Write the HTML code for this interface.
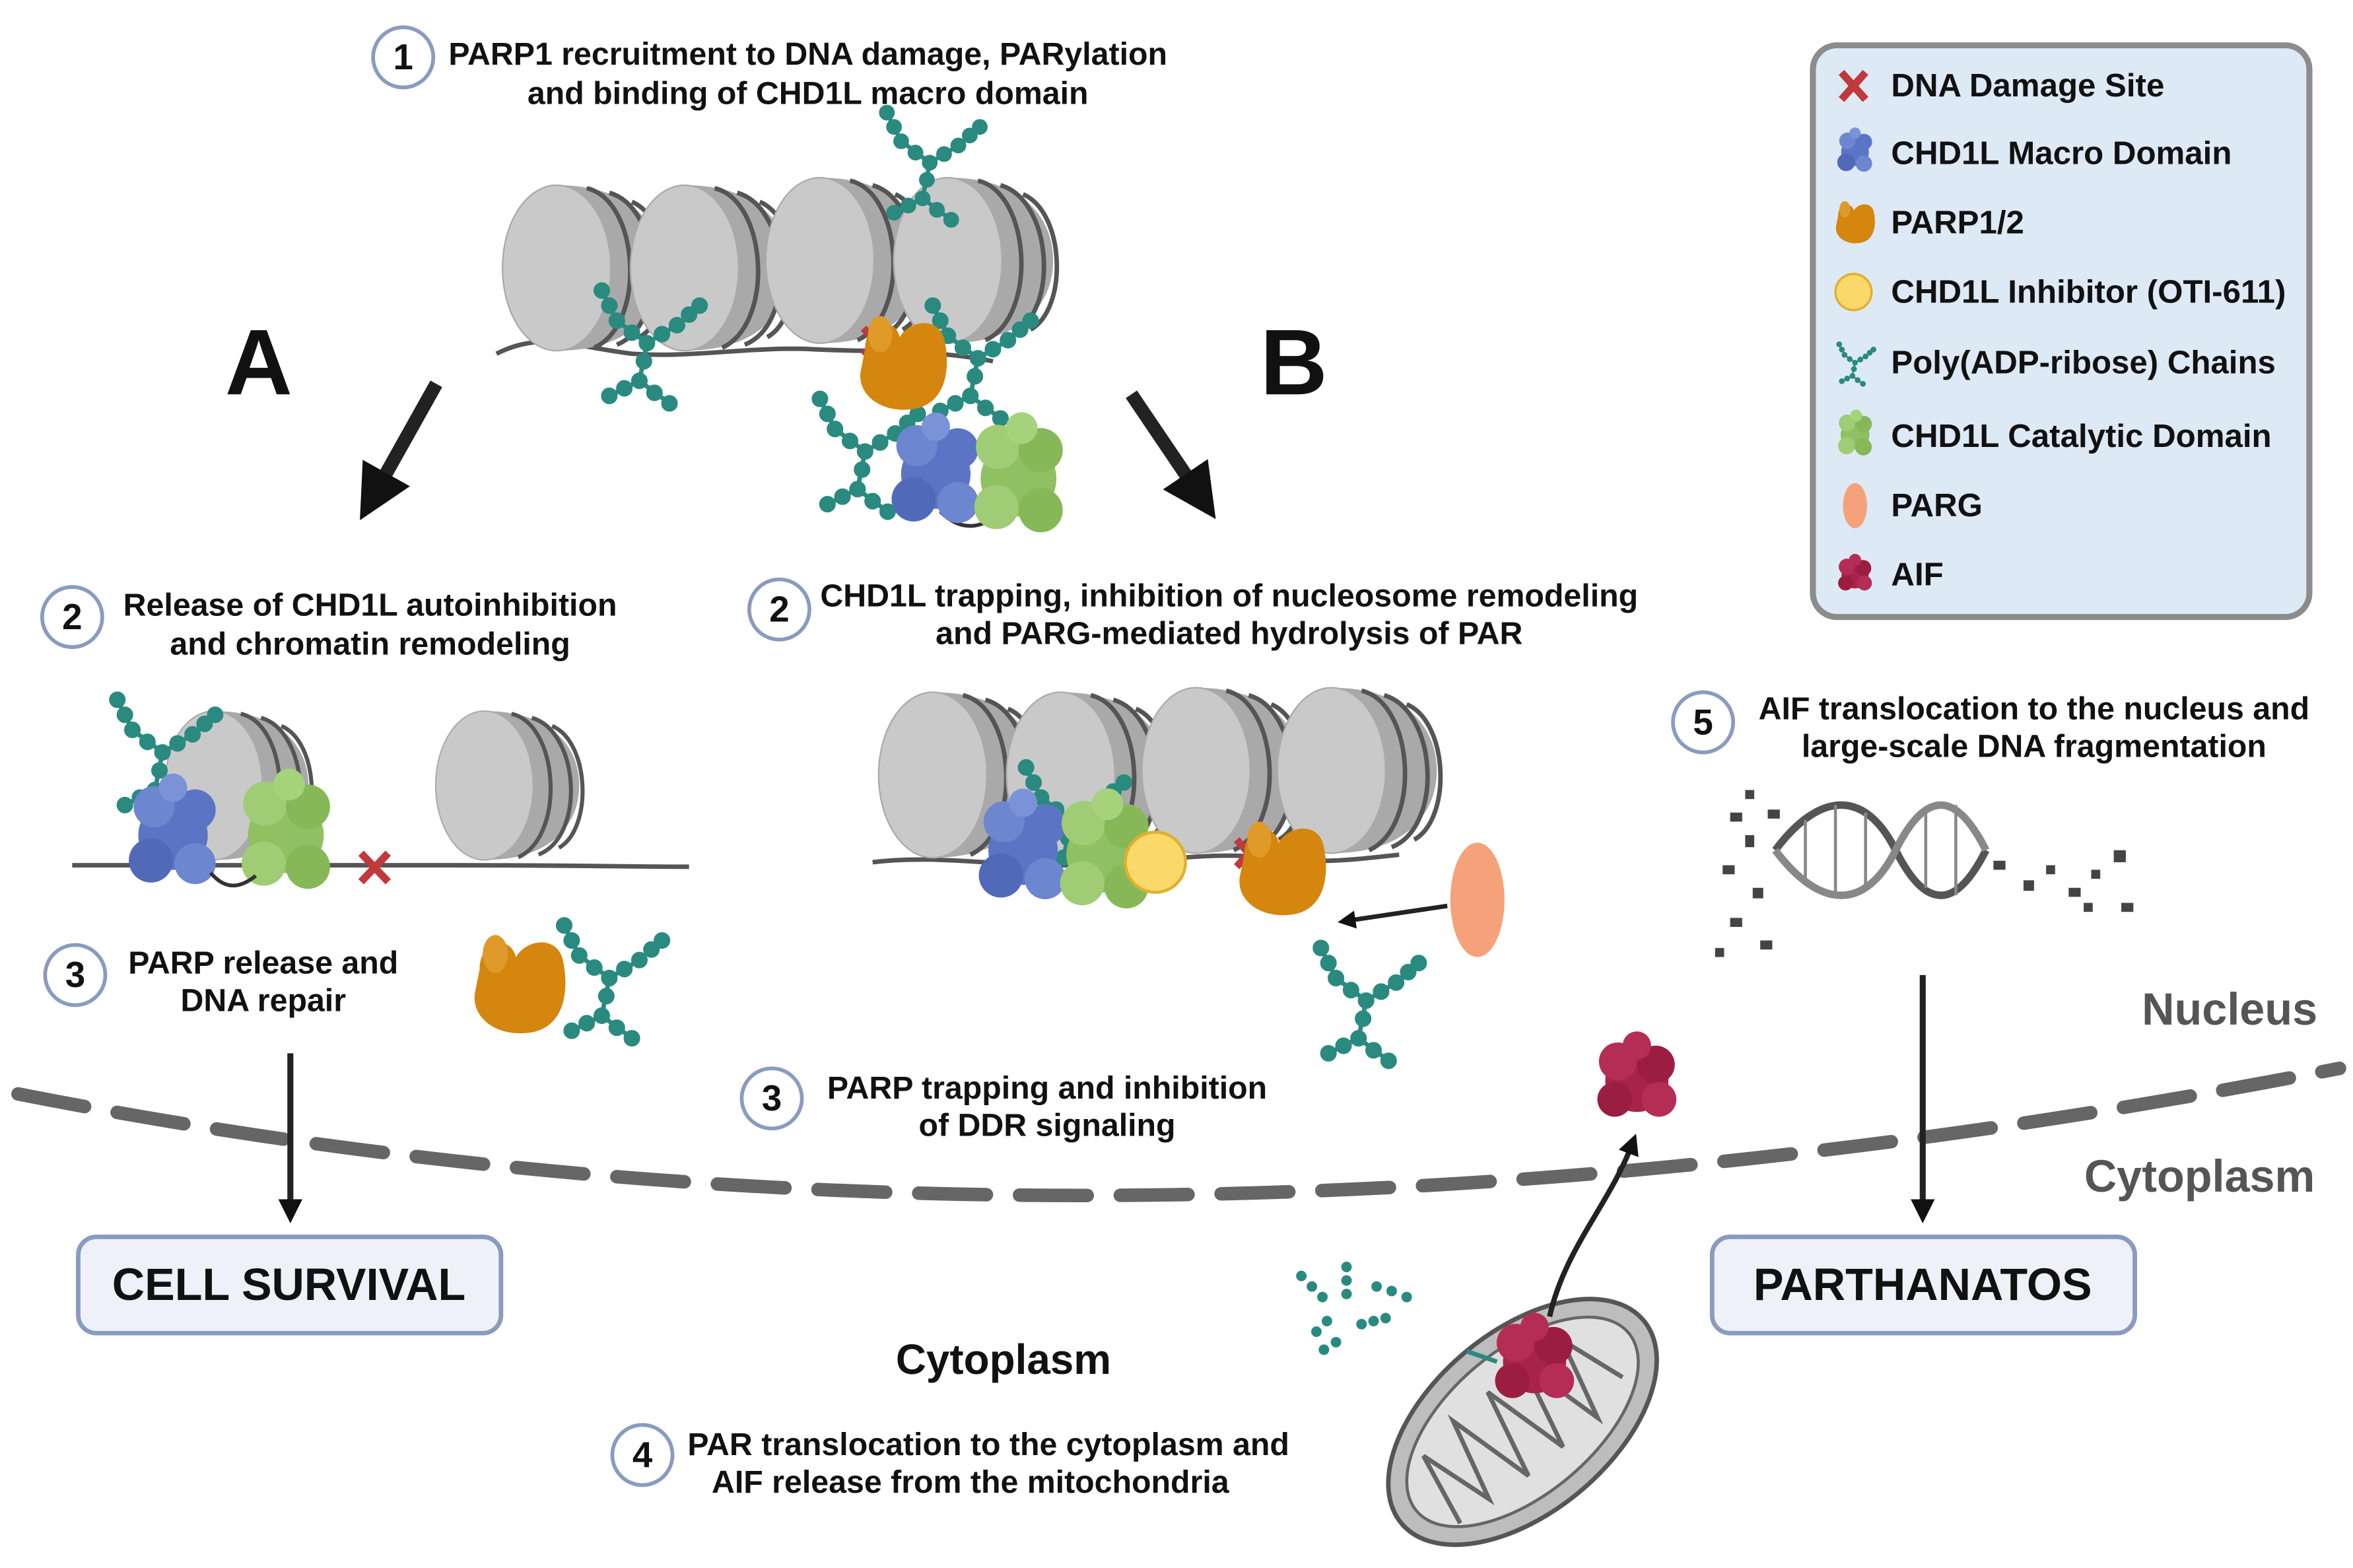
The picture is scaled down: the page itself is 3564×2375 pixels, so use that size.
<!DOCTYPE html>
<html><head><meta charset="utf-8"><style>
html,body{margin:0;padding:0;background:#fff}
svg{display:block}
text{font-family:"Liberation Sans",sans-serif;font-weight:bold;fill:#111}
</style></head><body>
<svg width="3564" height="2375" viewBox="0 0 1564 1042" xmlns="http://www.w3.org/2000/svg">
<defs>
<g id="nuc">
<path d="M-20,-55 C30,-55 50,-28 50,0 C50,28 30,55 -20,55 Z" fill="#a9a9a9"/>
<path d="M0,-53 C35,-45 40,37 5,53" fill="none" stroke="#555" stroke-width="3"/>
<path d="M15,-50 C50,-40 55,37 20,51" fill="none" stroke="#555" stroke-width="3"/>
<path d="M30,-44 C58,-32 60,32 35,46" fill="none" stroke="#555" stroke-width="3"/>
<ellipse cx="-20" cy="0" rx="36" ry="55" fill="#c9c9c9" stroke="#aaa" stroke-width="1"/>
</g>
<g id="par" fill="#2a8a80" stroke="#2a8a80" stroke-width="3">
<path d="M0,0 L-20,-15 M0,0 L20,-12 M0,0 L-5,25 M-5,25 L-25,35 M-5,25 L15,40 M20,-12 L35,-25 M-20,-15 L-30,-35" fill="none"/>
<circle cx="0" cy="0" r="4"/><circle cx="-10" cy="-7" r="4"/><circle cx="-20" cy="-15" r="4"/><circle cx="-25" cy="-25" r="4"/><circle cx="-30" cy="-35" r="4"/>
<circle cx="10" cy="-6" r="4"/><circle cx="20" cy="-12" r="4"/><circle cx="28" cy="-19" r="4"/><circle cx="35" cy="-25" r="4"/>
<circle cx="-2" cy="12" r="4"/><circle cx="-5" cy="25" r="4"/><circle cx="-15" cy="30" r="4"/><circle cx="-25" cy="35" r="4"/><circle cx="5" cy="33" r="4"/><circle cx="15" cy="40" r="4"/>
</g>
<g id="blue"><circle cx="0" cy="0" r="22" fill="#5b75c4"/><circle cx="-12" cy="-18" r="13" fill="#6d86d0"/><circle cx="14" cy="-16" r="13" fill="#5b75c4"/><circle cx="-14" cy="16" r="14" fill="#5069b8"/><circle cx="14" cy="18" r="13" fill="#6d86d0"/><circle cx="0" cy="-30" r="9" fill="#7a92d8"/></g>
<g id="green"><circle cx="0" cy="0" r="24" fill="#8fc062"/><circle cx="-13" cy="-20" r="14" fill="#9fcc74"/><circle cx="14" cy="-18" r="14" fill="#86b858"/><circle cx="-14" cy="18" r="14" fill="#9fcc74"/><circle cx="14" cy="20" r="14" fill="#86b858"/><circle cx="2" cy="-32" r="10" fill="#a6d27c"/></g>
<g id="orange"><path d="M-25,-10 C-25,-30 -5,-32 -2,-18 C5,-30 25,-32 28,-15 C32,5 28,28 5,30 C-15,32 -30,20 -28,5 Z" fill="#d4860f"/><ellipse cx="-15" cy="-20" rx="8" ry="12" fill="#e09a2a"/></g>
<g id="aif"><circle cx="0" cy="0" r="20" fill="#a8234a"/><circle cx="-12" cy="-12" r="12" fill="#b52c55"/><circle cx="12" cy="-10" r="12" fill="#9c1d42"/><circle cx="0" cy="-22" r="9" fill="#b52c55"/><circle cx="-14" cy="12" r="11" fill="#9c1d42"/><circle cx="14" cy="12" r="11" fill="#b52c55"/></g>
<marker id="ah" viewBox="0 0 10 10" refX="5" refY="5" markerWidth="4" markerHeight="4" orient="auto"><path d="M0,0 L10,5 L0,10 Z" fill="#111"/></marker>
</defs>

<!-- titles -->
<g font-size="21.2">
<circle cx="268" cy="38" r="20" fill="#fff" stroke="#8a9bc0" stroke-width="2.5"/><text x="268" y="46" font-size="24" text-anchor="middle">1</text>
<text x="537" y="43" text-anchor="middle">PARP1 recruitment to DNA damage, PARylation</text>
<text x="537" y="69" text-anchor="middle">and binding of CHD1L macro domain</text>

<circle cx="48" cy="410" r="20" fill="#fff" stroke="#8a9bc0" stroke-width="2.5"/><text x="48" y="418" font-size="24" text-anchor="middle">2</text>
<text x="246" y="409" text-anchor="middle">Release of CHD1L autoinhibition</text>
<text x="246" y="435" text-anchor="middle">and chromatin remodeling</text>

<circle cx="518" cy="405" r="20" fill="#fff" stroke="#8a9bc0" stroke-width="2.5"/><text x="518" y="413" font-size="24" text-anchor="middle">2</text>
<text x="817" y="403" text-anchor="middle">CHD1L trapping, inhibition of nucleosome remodeling</text>
<text x="817" y="428" text-anchor="middle">and PARG-mediated hydrolysis of PAR</text>

<circle cx="50" cy="648" r="20" fill="#fff" stroke="#8a9bc0" stroke-width="2.5"/><text x="50" y="656" font-size="24" text-anchor="middle">3</text>
<text x="175" y="647" text-anchor="middle">PARP release and</text>
<text x="175" y="672" text-anchor="middle">DNA repair</text>

<circle cx="513" cy="730" r="20" fill="#fff" stroke="#8a9bc0" stroke-width="2.5"/><text x="513" y="738" font-size="24" text-anchor="middle">3</text>
<text x="696" y="730" text-anchor="middle">PARP trapping and inhibition</text>
<text x="696" y="755" text-anchor="middle">of DDR signaling</text>

<circle cx="1132" cy="480" r="20" fill="#fff" stroke="#8a9bc0" stroke-width="2.5"/><text x="1132" y="488" font-size="24" text-anchor="middle">5</text>
<text x="1352" y="478" text-anchor="middle">AIF translocation to the nucleus and</text>
<text x="1352" y="503" text-anchor="middle">large-scale DNA fragmentation</text>

<circle cx="427" cy="967" r="20" fill="#fff" stroke="#8a9bc0" stroke-width="2.5"/><text x="427" y="975" font-size="24" text-anchor="middle">4</text>
<text x="657" y="967" text-anchor="middle">PAR translocation to the cytoplasm and</text>
<text x="645" y="992" text-anchor="middle">AIF release from the mitochondria</text>
</g>
<text x="172" y="262" font-size="62" text-anchor="middle">A</text>
<text x="860" y="262" font-size="62" text-anchor="middle">B</text>
<text x="667" y="913" font-size="28" text-anchor="middle">Cytoplasm</text>
<text x="1482" y="681" font-size="30" text-anchor="middle" style="fill:#555">Nucleus</text>
<text x="1462" y="792" font-size="30" text-anchor="middle" style="fill:#555">Cytoplasm</text>

<!-- legend -->
<rect x="1205" y="30" width="330" height="380" rx="16" fill="#dde9f5" stroke="#8c8c8c" stroke-width="4"/>
<g font-size="21.6">
<text x="1257" y="64">DNA Damage Site</text>
<text x="1257" y="109">CHD1L Macro Domain</text>
<text x="1257" y="155">PARP1/2</text>
<text x="1257" y="201">CHD1L Inhibitor (OTI-611)</text>
<text x="1257" y="248">Poly(ADP-ribose) Chains</text>
<text x="1257" y="297">CHD1L Catalytic Domain</text>
<text x="1257" y="343">PARG</text>
<text x="1257" y="389">AIF</text>
</g>
<path d="M1224,48 L1240,66 M1240,48 L1224,66" stroke="#c0393b" stroke-width="5"/>
<use href="#blue" transform="translate(1233,101) scale(0.42)"/>
<use href="#orange" transform="translate(1233,148) scale(0.45)"/>
<circle cx="1232" cy="194" r="12" fill="#fbd86a" stroke="#e0b030" stroke-width="1.5"/>
<use href="#par" transform="translate(1233,241) scale(0.35)"/>
<use href="#green" transform="translate(1233,289) scale(0.4)"/>
<ellipse cx="1233" cy="336" rx="8" ry="15" fill="#f5a27a"/>
<use href="#aif" transform="translate(1233,382) scale(0.45)"/>

<!-- top chromatin -->
<path d="M330,235 C360,220 380,230 420,235 C460,238 500,230 540,232 C580,234 620,232 660,240" fill="none" stroke="#555" stroke-width="3"/>
<use href="#nuc" transform="translate(390,178)"/>
<use href="#nuc" transform="translate(475,178)"/>
<use href="#nuc" transform="translate(565,173)"/>
<use href="#nuc" transform="translate(650,173)"/>
<use href="#par" transform="translate(430,228) scale(1.0)"/>
<use href="#par" transform="translate(618,108) scale(0.95)"/>
<use href="#par" transform="translate(650,238) scale(1.0)"/>
<use href="#par" transform="translate(575,300) scale(1.0)"/>
<path d="M574,218 L590,236 M590,218 L574,236" stroke="#c0393b" stroke-width="5"/>
<use href="#orange" transform="translate(600,242)"/>
<path d="M625,340 C640,355 655,350 665,340" fill="none" stroke="#333" stroke-width="2.5"/>
<use href="#blue" transform="translate(622,315) scale(1.05)"/>
<use href="#green" transform="translate(677,318) scale(1.05)"/>

<!-- big arrows -->
<line x1="290" y1="255" x2="248" y2="330" stroke="#222" stroke-width="9" marker-end="url(#ah)"/>
<line x1="752" y1="262" x2="798" y2="330" stroke="#222" stroke-width="9" marker-end="url(#ah)"/>

<!-- left chromatin -->
<path d="M48,575 C100,575 200,575 300,575 C380,575 420,576 458,576" fill="none" stroke="#555" stroke-width="3"/>
<use href="#nuc" transform="translate(160,522) scale(0.9)"/>
<use href="#nuc" transform="translate(340,522) scale(0.9)"/>
<use href="#par" transform="translate(108,500) scale(1.0)"/>
<use href="#blue" transform="translate(115,555) scale(1.05)"/>
<use href="#green" transform="translate(190,555) scale(1.05)"/>
<path d="M140,580 C150,592 160,590 170,582" fill="none" stroke="#333" stroke-width="2.5"/>
<path d="M240,567 L258,586 M258,567 L240,586" stroke="#c0393b" stroke-width="5"/>
<use href="#orange" transform="translate(345,655) scale(1.05)"/>
<use href="#par" transform="translate(405,650) scale(1.0)"/>

<!-- right chromatin -->
<path d="M580,573 C620,568 660,575 700,575 C760,575 800,565 840,570 C880,575 910,570 930,568" fill="none" stroke="#555" stroke-width="3"/>
<use href="#nuc" transform="translate(640,515)"/>
<use href="#nuc" transform="translate(725,515)"/>
<use href="#nuc" transform="translate(815,512)"/>
<use href="#nuc" transform="translate(905,512)"/>
<use href="#par" transform="translate(712,545) scale(1.0)"/>
<use href="#blue" transform="translate(680,565) scale(1.05)"/>
<use href="#green" transform="translate(734,568) scale(1.05)"/>
<circle cx="768" cy="573" r="20" fill="#fbd86a" stroke="#e0b030" stroke-width="2"/>
<path d="M822,558 L838,576 M838,558 L822,576" stroke="#c0393b" stroke-width="5"/>
<use href="#orange" transform="translate(852,578)"/>
<ellipse cx="982" cy="598" rx="18" ry="38" fill="#f5a27a"/>
<line x1="962" y1="602" x2="895" y2="612" stroke="#222" stroke-width="3" marker-end="url(#ah)"/>
<use href="#par" transform="translate(908,665) scale(1.0)"/>

<!-- DNA fragments -->
<g stroke="#555" stroke-width="5" fill="none">
<path d="M1180,565 C1210,525 1240,525 1260,565 C1280,605 1300,605 1320,565"/>
<path d="M1180,565 C1210,605 1240,605 1260,565 C1280,525 1300,525 1320,565" stroke="#888"/>
</g>
<g stroke="#888" stroke-width="2"><line x1="1200" y1="545" x2="1200" y2="585"/><line x1="1220" y1="535" x2="1220" y2="595"/><line x1="1240" y1="540" x2="1240" y2="590"/><line x1="1280" y1="540" x2="1280" y2="590"/><line x1="1300" y1="535" x2="1300" y2="595"/></g>
<g fill="#444">
<rect x="1150" y="540" width="8" height="6"/><rect x="1160" y="555" width="6" height="8"/><rect x="1145" y="575" width="8" height="6"/><rect x="1165" y="590" width="7" height="7"/><rect x="1150" y="610" width="8" height="6"/><rect x="1170" y="625" width="8" height="6"/><rect x="1140" y="630" width="6" height="6"/><rect x="1175" y="538" width="8" height="6"/><rect x="1160" y="525" width="6" height="6"/>
<rect x="1325" y="572" width="8" height="6"/><rect x="1345" y="585" width="7" height="7"/><rect x="1360" y="575" width="6" height="6"/><rect x="1375" y="590" width="8" height="6"/><rect x="1390" y="578" width="6" height="6"/><rect x="1405" y="565" width="8" height="8"/><rect x="1410" y="600" width="8" height="6"/><rect x="1385" y="600" width="6" height="6"/>
</g>

<!-- membrane -->
<path d="M12,727 Q740,870 1555,710" fill="none" stroke="#666" stroke-width="9" stroke-linecap="round" stroke-dasharray="45 22"/>

<!-- down arrows -->
<line x1="193" y1="700" x2="193" y2="805" stroke="#222" stroke-width="4" marker-end="url(#ah)"/>
<line x1="1278" y1="648" x2="1278" y2="805" stroke="#222" stroke-width="4" marker-end="url(#ah)"/>

<!-- boxes -->
<rect x="52" y="822" width="281" height="64" rx="12" fill="#eef2f8" stroke="#8a9bc0" stroke-width="3"/>
<text x="192" y="864" font-size="30" text-anchor="middle">CELL SURVIVAL</text>
<rect x="1138" y="822" width="281" height="64" rx="12" fill="#eef2f8" stroke="#8a9bc0" stroke-width="3"/>
<text x="1278" y="864" font-size="30" text-anchor="middle">PARTHANATOS</text>

<!-- mitochondrion -->
<g transform="translate(1012,945) rotate(-40)">
<ellipse cx="0" cy="0" rx="105" ry="60" fill="#bdbdbd" stroke="#555" stroke-width="3"/>
<ellipse cx="0" cy="0" rx="92" ry="48" fill="#e0e0e0" stroke="#666" stroke-width="2"/>
<path d="M-75,25 L-65,-25 L-50,25 L-35,-30 L-20,30 L-5,-30 L10,30 L25,-30 L40,30 L55,-25 L70,20" fill="none" stroke="#666" stroke-width="3"/>
</g>
<use href="#aif" transform="translate(1020,905) scale(1.05)"/>
<path d="M975,898 L995,905" stroke="#2a8a80" stroke-width="3"/>
<path d="M1030,875 C1040,830 1070,800 1085,760" fill="none" stroke="#222" stroke-width="3.5" marker-end="url(#ah)"/>
<use href="#aif" transform="translate(1088,718) scale(1.05)"/>
<g fill="#2a8a80">
<circle cx="865" cy="848" r="3.5"/><circle cx="872" cy="855" r="3.5"/><circle cx="879" cy="862" r="3.5"/>
<circle cx="895" cy="842" r="3.5"/><circle cx="895" cy="851" r="3.5"/><circle cx="895" cy="860" r="3.5"/>
<circle cx="915" cy="855" r="3.5"/><circle cx="925" cy="858" r="3.5"/><circle cx="935" cy="862" r="3.5"/>
<circle cx="875" cy="885" r="3.5"/><circle cx="882" cy="878" r="3.5"/><circle cx="888" cy="892" r="3.5"/><circle cx="880" cy="897" r="3.5"/>
<circle cx="905" cy="880" r="3.5"/><circle cx="913" cy="878" r="3.5"/><circle cx="921" cy="876" r="3.5"/>
</g>
</svg>
</body></html>
